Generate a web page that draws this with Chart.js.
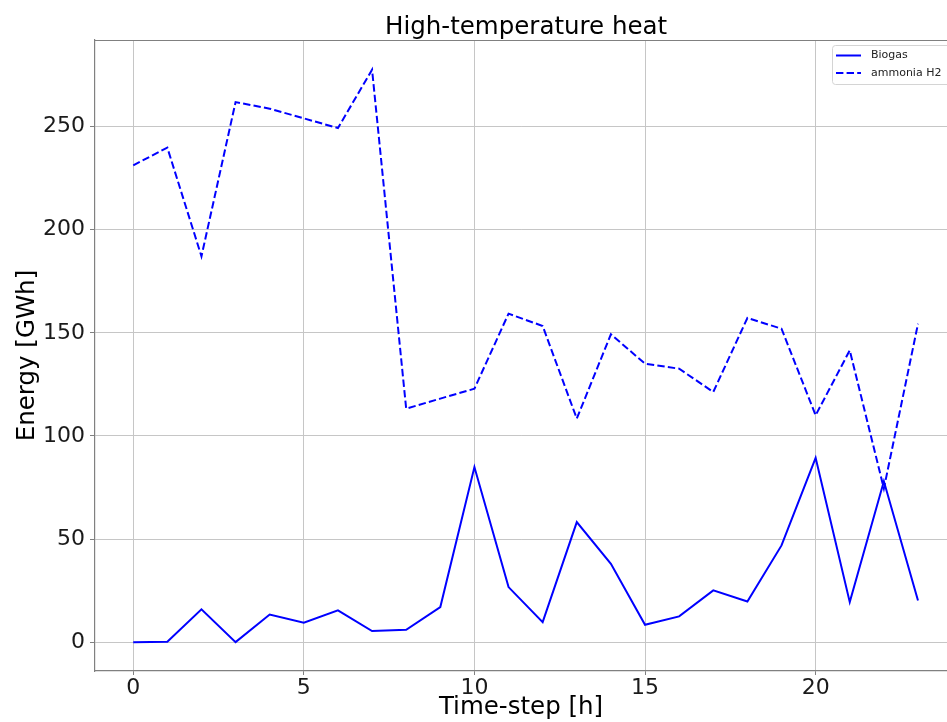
<!DOCTYPE html>
<html>
<head>
<meta charset="utf-8">
<script src="https://cdn.jsdelivr.net/npm/chart.js@4/dist/chart.umd.min.js"></script>
<style>
  html, body { margin: 0; padding: 0; background: #ffffff; }
  #wrap { width: 947px; height: 722px; position: relative; }
</style>
</head>
<body>
<div id="wrap"><canvas id="c" width="947" height="722"></canvas></div>
<script>
const timeSteps = [0,1,2,3,4,5,6,7,8,9,10,11,12,13,14,15,16,17,18,19,20,21,22,23];
const biogas = [0, 0.2, 15.9, 0, 13.4, 9.4, 15.4, 5.4, 6.0, 17.0, 84.9, 26.7, 9.7, 58.2, 38.0, 8.4, 12.5, 25.1, 19.7, 46.9, 89.4, 19.4, 78.0, 20.2];
const ammoniaH2 = [231.2, 239.8, 187.1, 261.9, 258.7, 254.0, 249.3, 277.6, 113.2, 118.1, 122.9, 159.3, 153.3, 108.4, 149.3, 135.0, 132.6, 121.3, 157.2, 152.0, 110.0, 141.5, 74.5, 154.4];
const xTickValues = [0, 5, 10, 15, 20];
const yTickValues = [0, 50, 100, 150, 200, 250];
const seriesNames = ['Biogas', 'ammonia H2'];
const chartTitle = 'High-temperature heat';
const xTitle = 'Time-step [h]';
const yTitle = 'Energy [GWh]';

const FONT = "'DejaVu Sans', 'Liberation Sans', sans-serif";
const GRID = '#c6c6c6';
const SPINE = '#808080';

const framePlugin = {
  id: 'frame',
  afterDraw(chart) {
    const ctx = chart.ctx, a = chart.chartArea;
    ctx.save();
    // top spine
    ctx.strokeStyle = SPINE;
    ctx.lineWidth = 1.2;
    ctx.beginPath();
    ctx.moveTo(a.left, a.top + 0.5);
    ctx.lineTo(a.right, a.top + 0.5);
    ctx.stroke();
    // title centred over the full axes extent
    const xs = chart.scales.x;
    const cx = xs.getPixelForValue((xs.min + 24.15) / 2);
    ctx.fillStyle = '#000';
    ctx.font = "24.5px " + FONT;
    ctx.textAlign = 'center';
    ctx.textBaseline = 'middle';
    ctx.fillText(chartTitle, cx, 28);
    // legend
    const bx = a.right - 115, by = a.top + 5, bw = 130, bh = 39;
    ctx.fillStyle = 'rgba(255,255,255,0.85)';
    ctx.strokeStyle = '#d4d4d4';
    ctx.lineWidth = 1;
    ctx.beginPath();
    if (ctx.roundRect) ctx.roundRect(bx + 0.5, by + 0.5, bw, bh, 3); else ctx.rect(bx + 0.5, by + 0.5, bw, bh);
    ctx.fill();
    ctx.stroke();
    chart.data.datasets.forEach((ds, i) => {
      const y = by + 10.5 + i * 17.5;
      ctx.strokeStyle = ds.borderColor;
      ctx.lineWidth = ds.borderWidth;
      ctx.setLineDash(ds.borderDash || []);
      ctx.beginPath();
      ctx.moveTo(bx + 4, y);
      ctx.lineTo(bx + 29, y);
      ctx.stroke();
      ctx.setLineDash([]);
      ctx.fillStyle = '#222';
      ctx.font = "11px " + FONT;
      ctx.textAlign = 'left';
      ctx.textBaseline = 'middle';
      ctx.fillText(ds.label, bx + 39, y);
    });
    ctx.restore();
  }
};

new Chart(document.getElementById('c'), {
  type: 'line',
  data: {
    datasets: [
      {
        label: seriesNames[0],
        data: timeSteps.map((t, i) => ({ x: t, y: biogas[i] })),
        borderColor: '#0000ff',
        borderWidth: 2,
        pointRadius: 0,
        tension: 0,
        fill: false
      },
      {
        label: seriesNames[1],
        data: timeSteps.map((t, i) => ({ x: t, y: ammoniaH2[i] })),
        borderColor: '#0000ff',
        borderWidth: 2,
        borderDash: [7.4, 3.2],
        pointRadius: 0,
        tension: 0,
        fill: false
      }
    ]
  },
  options: {
    responsive: false,
    animation: false,
    layout: { padding: { top: 40, left: 0, right: 0, bottom: 0 } },
    plugins: {
      legend: { display: false },
      title: { display: false },
      tooltip: { enabled: false }
    },
    scales: {
      x: {
        type: 'linear',
        min: -1.12,
        max: 23.85,
        afterBuildTicks(scale) { scale.ticks = xTickValues.map(v => ({ value: v })); },
        afterFit(scale) { scale.height = 51; },
        grid: { color: GRID, lineWidth: 1, tickLength: 4, tickColor: SPINE, drawTicks: true },
        border: { display: true, color: SPINE, width: 1.2 },
        ticks: { font: { family: FONT, size: 22 }, color: '#1a1a1a', padding: 0, maxRotation: 0 },
        title: { display: true, text: xTitle, font: { family: FONT, size: 24.5 }, color: '#000', padding: { top: 0, bottom: 0 } }
      },
      y: {
        type: 'linear',
        min: -14,
        max: 292,
        afterBuildTicks(scale) { scale.ticks = yTickValues.map(v => ({ value: v })); },
        afterFit(scale) { scale.width = 95; },
        grid: { color: GRID, lineWidth: 1, tickLength: 5, tickColor: SPINE, drawTicks: true },
        border: { display: true, color: SPINE, width: 1.2 },
        ticks: { font: { family: FONT, size: 22 }, color: '#1a1a1a', padding: 5 },
        title: { display: true, text: yTitle, font: { family: FONT, size: 24.5 }, color: '#000', padding: { top: 13, bottom: 0 } }
      }
    }
  },
  plugins: [framePlugin]
});
</script>
</body>
</html>
